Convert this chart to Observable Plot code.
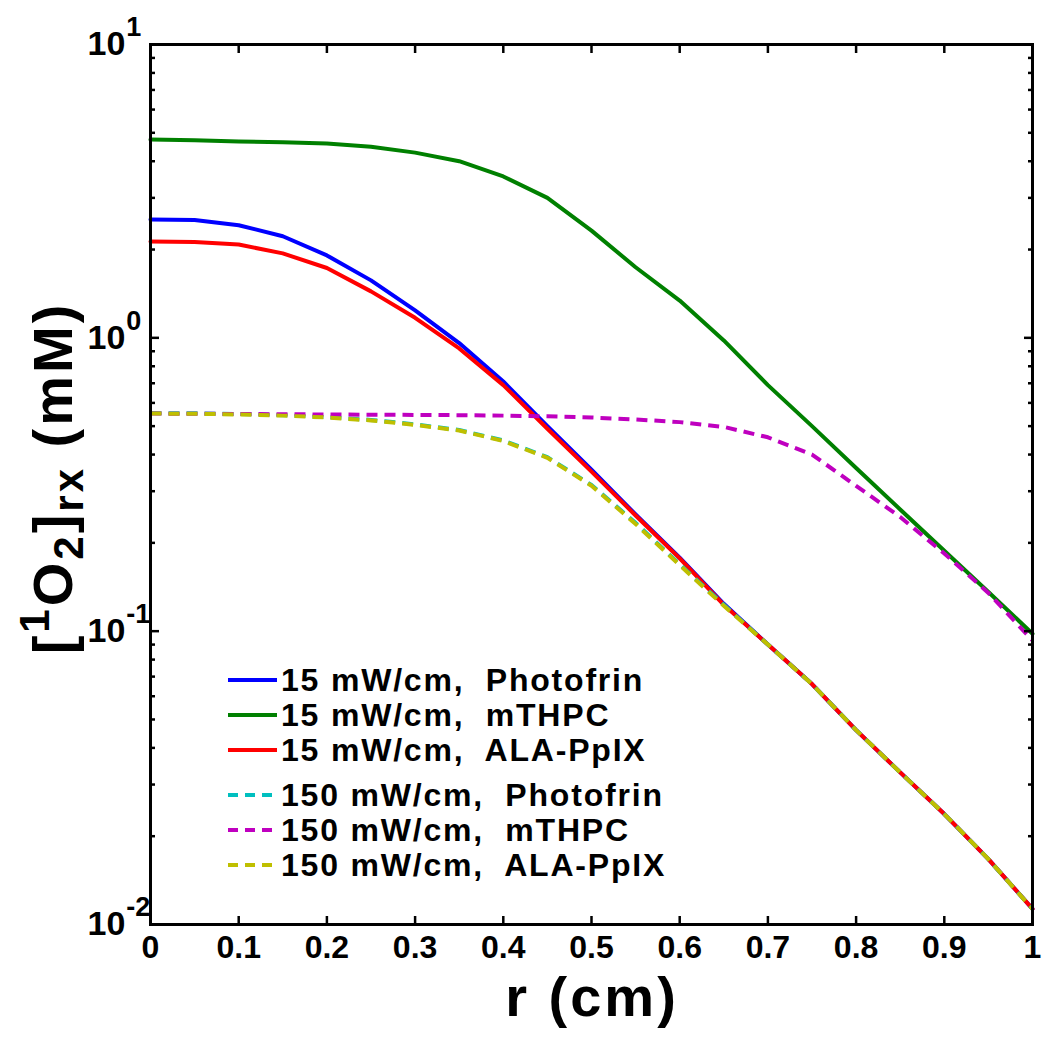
<!DOCTYPE html>
<html>
<head>
<meta charset="utf-8">
<script src="https://cdn.jsdelivr.net/npm/d3@7"></script>
<script src="https://cdn.jsdelivr.net/npm/@observablehq/plot@0.6"></script>
<style>
  body { margin: 0; background: #fff; }
  #wrap { position: relative; width: 1050px; height: 1038px; font-family: "Liberation Sans", Arial, sans-serif; }
  #legend { position: absolute; left: 226px; top: 662px; font-weight: bold; font-size: 32px; color: #000; letter-spacing: 1.8px; }
  #legend .row { display: flex; align-items: center; height: 35px; white-space: pre; line-height: 1; }
  #legend .gap { height: 10px; }
  #legend svg { display: block; margin-right: 3px; }
</style>
</head>
<body>
<div id="wrap"></div>
<script>
// radius r (cm)
const r = [0, 0.05, 0.1, 0.15, 0.2, 0.25, 0.3, 0.35, 0.4, 0.45, 0.5, 0.55, 0.6, 0.65, 0.7, 0.75, 0.8, 0.85, 0.9, 0.95, 1.0];

// [1O2]rx (mM)
const photofrin15 = [2.53, 2.52, 2.42, 2.22, 1.91, 1.57, 1.24, 0.96, 0.71, 0.50, 0.355, 0.25, 0.178, 0.124, 0.090, 0.066, 0.046, 0.033, 0.0238, 0.0167, 0.0113];
const mthpc15     = [4.74, 4.72, 4.67, 4.64, 4.60, 4.48, 4.28, 4.00, 3.55, 3.00, 2.32, 1.74, 1.34, 0.98, 0.69, 0.50, 0.36, 0.26, 0.188, 0.136, 0.098];
const alappix15   = [2.13, 2.12, 2.08, 1.94, 1.73, 1.44, 1.17, 0.92, 0.69, 0.49, 0.35, 0.248, 0.177, 0.123, 0.090, 0.066, 0.046, 0.033, 0.0238, 0.0167, 0.0113];
const photofrin150 = [0.554, 0.553, 0.550, 0.545, 0.537, 0.525, 0.507, 0.485, 0.447, 0.392, 0.315, 0.234, 0.169, 0.123, 0.090, 0.066, 0.046, 0.033, 0.0238, 0.0167, 0.0113];
const mthpc150    = [0.552, 0.551, 0.550, 0.549, 0.548, 0.547, 0.546, 0.545, 0.543, 0.540, 0.535, 0.527, 0.516, 0.497, 0.458, 0.400, 0.313, 0.245, 0.184, 0.135, 0.093];
const alappix150  = [0.552, 0.551, 0.548, 0.543, 0.535, 0.523, 0.505, 0.483, 0.445, 0.390, 0.313, 0.232, 0.168, 0.122, 0.090, 0.066, 0.046, 0.033, 0.0238, 0.0167, 0.0113];

const seriesNames = ["15 mW/cm,  Photofrin", "15 mW/cm,  mTHPC", "15 mW/cm,  ALA-PpIX",
                     "150 mW/cm,  Photofrin", "150 mW/cm,  mTHPC", "150 mW/cm,  ALA-PpIX"];
const seriesValues = [photofrin15, mthpc15, alappix15, photofrin150, mthpc150, alappix150];
const seriesColors = ["#0000ff", "#008000", "#ff0000", "#00bfbf", "#bf00bf", "#bfbf00"];
const seriesDashed = [false, false, false, true, true, true];

const xTicks = [0, 0.1, 0.2, 0.3, 0.4, 0.5, 0.6, 0.7, 0.8, 0.9, 1];
const yMajor = [0.01, 0.1, 1, 10];
const yMinor = [2,3,4,5,6,7,8,9].flatMap(m => [m * 0.01, m * 0.1, m * 1]);

const dashArr = "11,7";

const lineMarks = seriesNames.map((name, k) => {
  const rows = r.map((x, i) => ({r: x, v: seriesValues[k][i], series: name}));
  return Plot.line(rows, {
    x: "r", y: "v", stroke: seriesColors[k], strokeWidth: 4,
    strokeDasharray: seriesDashed[k] ? dashArr : null,
    strokeLinecap: seriesDashed[k] ? "butt" : "round"
  });
});

const chart = Plot.plot({
  width: 1050, height: 1038,
  marginLeft: 150, marginRight: 18, marginTop: 44, marginBottom: 114,
  x: {domain: [0, 1]},
  y: {type: "log", domain: [0.01, 10]},
  style: {fontFamily: "'Liberation Sans', Arial, sans-serif", fontWeight: "bold", background: "white", color: "black"},
  marks: [
    ...lineMarks,
    Plot.axisX({ticks: xTicks, tickSize: -8, tickPadding: 19, fontSize: 32, strokeWidth: 2.5,
                tickFormat: d => String(+d.toFixed(1)), label: null}),
    Plot.axisX({anchor: "top", ticks: xTicks, tickSize: -8, strokeWidth: 2.5, tickFormat: () => "", label: null}),
    Plot.axisY({ticks: yMajor, tickSize: -9, tickPadding: 72, textAnchor: "start", fontSize: 34, strokeWidth: 2.5,
                tickFormat: d => "10^" + Math.round(Math.log10(d)), label: null}),
    Plot.axisY({ticks: yMinor, tickSize: -5, strokeWidth: 2.5, tickFormat: () => "", label: null}),
    Plot.axisY({anchor: "right", ticks: yMajor, tickSize: -9, strokeWidth: 2.5, tickFormat: () => "", label: null}),
    Plot.axisY({anchor: "right", ticks: yMinor, tickSize: -5, strokeWidth: 2.5, tickFormat: () => "", label: null}),
    Plot.frame({stroke: "black", strokeWidth: 3})
  ]
});

const wrap = document.getElementById("wrap");
wrap.appendChild(chart);
const svg = d3.select(chart);

// superscript tick labels 10^n
svg.selectAll("text").each(function() {
  const t = this.textContent;
  if (!t.includes("^")) return;
  const exp = t.split("^")[1];
  const sel = d3.select(this);
  sel.selectAll("*").remove();
  sel.text(null);
  sel.append("tspan").text("10");
  sel.append("tspan").attr("font-size", 27).attr("dy", -19).attr("dx", 1).text(exp);
});

// x axis label
svg.append("text")
  .attr("x", 592).attr("y", 1016)
  .attr("text-anchor", "middle")
  .attr("font-size", 56).attr("font-weight", "bold")
  .attr("letter-spacing", 3)
  .attr("font-family", "'Liberation Sans', Arial, sans-serif")
  .text("r (cm)");

// y axis label
const yl = svg.append("text")
  .attr("transform", "translate(72,478) rotate(-90)")
  .attr("text-anchor", "middle")
  .attr("font-size", 56).attr("font-weight", "bold")
  .attr("letter-spacing", 3)
  .attr("font-family", "'Liberation Sans', Arial, sans-serif")
  .style("white-space", "pre");
yl.append("tspan").text("[");
yl.append("tspan").attr("font-size", 42).attr("dy", -23).text("1");
yl.append("tspan").attr("dy", 23).text("O");
yl.append("tspan").attr("font-size", 42).attr("dy", 11).text("2");
yl.append("tspan").attr("dy", -11).text("]");
yl.append("tspan").attr("font-size", 42).attr("dy", 11).text("rx");
yl.append("tspan").attr("dy", -11).text(" (mM)");

// legend
const legend = d3.select(wrap).append("div").attr("id", "legend");
seriesNames.forEach((name, k) => {
  if (k === 3) legend.append("div").attr("class", "gap");
  const row = legend.append("div").attr("class", "row");
  const s = row.append("svg").attr("width", 52).attr("height", 10);
  s.append("line").attr("x1", 2).attr("x2", 51).attr("y1", 5).attr("y2", 5)
    .attr("stroke", seriesColors[k]).attr("stroke-width", 4)
    .attr("stroke-dasharray", seriesDashed[k] ? "10,7" : null);
  row.append("span").text(name);
});
</script>
</body>
</html>
